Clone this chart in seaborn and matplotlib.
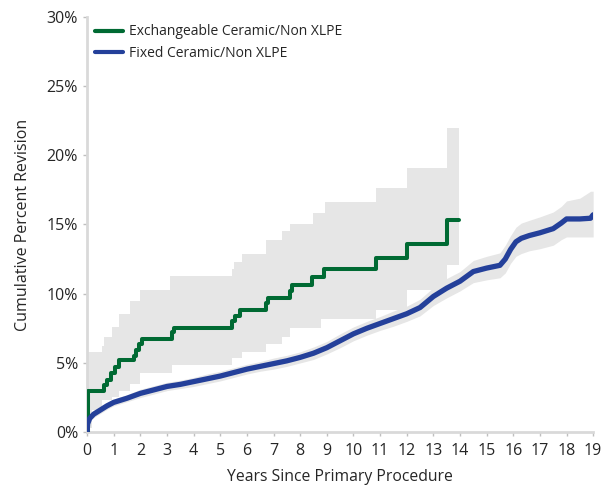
import numpy as np
import matplotlib
matplotlib.use('Agg')
import matplotlib.pyplot as plt
import seaborn as sns

# Exchangeable Ceramic/Non XLPE (step curve)
exch_years = [0, 0.02, 0.05, 0.63, 0.75, 0.9, 1.05, 1.2, 1.75, 1.85, 1.95, 2.05,
              3.17, 3.25, 5.45, 5.55, 5.75, 6.7, 6.8, 7.6, 7.7, 8.45, 8.9,
              10.85, 12.0, 13.5, 13.95]
exch_pct = [0, 2.2, 3.0, 3.4, 3.8, 4.3, 4.7, 5.2, 5.5, 5.9, 6.4, 6.7,
            7.2, 7.5, 8.0, 8.4, 8.8, 9.3, 9.7, 10.2, 10.6, 11.2, 11.8,
            12.6, 13.6, 15.3, 15.3]

# Exchangeable 95% CI (step band)
exch_ci_years = [0, 0.2, 0.55, 0.65, 0.93, 1.2, 1.6, 2.0, 3.1, 3.2, 5.44, 5.53,
                 5.82, 6.7, 7.32, 7.63, 8.5, 8.8, 8.94, 10.84, 12.0, 13.52, 13.95]
exch_ci_low = [0.3, 1.6, 2.3, 2.3, 2.55, 3.0, 3.5, 4.26, 4.26, 4.84, 5.33, 5.33,
               5.8, 6.4, 6.9, 7.5, 7.5, 8.2, 8.2, 8.8, 10.3, 12.1, 12.1]
exch_ci_high = [5.8, 5.8, 6.2, 6.9, 7.6, 8.5, 9.5, 10.3, 11.3, 11.3, 11.8, 12.3,
                12.9, 13.9, 14.5, 15.0, 15.8, 15.8, 16.6, 17.6, 19.1, 22.0, 22.0]

# Fixed Ceramic/Non XLPE
fixed_years = [0, 0.02, 0.1, 0.25, 0.5, 0.75, 1.0, 1.5, 2.0, 2.5, 3.0, 3.5, 4.0,
               4.5, 5.0, 5.5, 6.0, 6.5, 7.0, 7.5, 8.0, 8.5, 9.0, 9.5, 10.0, 10.5,
               11.0, 11.5, 12.0, 12.5, 13.0, 13.5, 14.0, 14.5, 15.0, 15.5, 15.7,
               15.9, 16.1, 16.3, 16.6, 17.0, 17.5, 17.8, 18.0, 18.5, 18.9, 19.0]
fixed_pct = [0, 0.6, 1.0, 1.3, 1.6, 1.9, 2.15, 2.45, 2.8, 3.05, 3.3, 3.45, 3.65,
             3.85, 4.05, 4.3, 4.55, 4.75, 4.95, 5.15, 5.4, 5.7, 6.1, 6.6, 7.1, 7.5,
             7.85, 8.2, 8.55, 9.0, 9.8, 10.4, 10.9, 11.6, 11.85, 12.05, 12.5,
             13.2, 13.75, 14.0, 14.2, 14.4, 14.7, 15.1, 15.4, 15.4, 15.45, 15.7]
fixed_ci_low = [0, 0.4, 0.8, 1.05, 1.35, 1.65, 1.9, 2.2, 2.5, 2.75, 3.0, 3.15, 3.3,
                3.5, 3.7, 3.95, 4.2, 4.4, 4.55, 4.75, 5.0, 5.25, 5.65, 6.1, 6.6, 7.0,
                7.35, 7.65, 8.0, 8.4, 9.15, 9.7, 10.2, 10.8, 11.0, 11.15, 11.5,
                12.2, 12.7, 12.9, 13.1, 13.25, 13.5, 13.9, 14.1, 14.1, 14.1, 14.1]
fixed_ci_high = [0.3, 0.8, 1.2, 1.55, 1.85, 2.15, 2.4, 2.7, 3.1, 3.35, 3.6, 3.75, 3.95,
                 4.2, 4.4, 4.65, 4.9, 5.1, 5.35, 5.55, 5.8, 6.15, 6.55, 7.1, 7.6, 8.0,
                 8.35, 8.75, 9.1, 9.6, 10.45, 11.1, 11.6, 12.4, 12.7, 12.95, 13.5,
                 14.2, 14.8, 15.1, 15.3, 15.55, 15.9, 16.3, 16.7, 16.9, 17.4, 17.4]

x_ticks = list(range(0, 20))
y_ticks = [0, 5, 10, 15, 20, 25, 30]
y_tick_labels = [f'{v}%' for v in y_ticks]

green = '#006a33'
blue = '#24409a'
band = '#e6e6e6'
text_col = '#262626'

sns.set_style('ticks')
plt.rcParams['font.family'] = ['Open Sans', 'DejaVu Sans']
plt.rcParams['text.color'] = text_col
plt.rcParams['axes.labelcolor'] = text_col
plt.rcParams['xtick.color'] = '#bfbfbf'
plt.rcParams['ytick.color'] = '#bfbfbf'
plt.rcParams['xtick.labelcolor'] = text_col
plt.rcParams['ytick.labelcolor'] = text_col

fig = plt.figure(figsize=(6.09, 4.95), dpi=100)
ax = fig.add_axes([0.143, 0.127, 0.831, 0.839])

ax.fill_between(exch_ci_years, exch_ci_low, exch_ci_high, step='post',
                color=band, linewidth=0, zorder=1)
ax.fill_between(fixed_years, fixed_ci_low, fixed_ci_high,
                color=band, linewidth=0, zorder=1)

sns.lineplot(x=exch_years, y=exch_pct, ax=ax, color=green, linewidth=2.9,
             drawstyle='steps-post', estimator=None, sort=False,
             label='Exchangeable Ceramic/Non XLPE', zorder=3)
sns.lineplot(x=fixed_years, y=fixed_pct, ax=ax, color=blue, linewidth=3.8,
             estimator=None, sort=False, solid_capstyle='round',
             label='Fixed Ceramic/Non XLPE', zorder=3)

ax.set_xlim(0, 19)
ax.set_ylim(0, 30)
ax.set_xticks(x_ticks)
ax.set_yticks(y_ticks)
ax.set_yticklabels(y_tick_labels)
ax.tick_params(axis='both', labelsize=11.5, length=3, width=1)
ax.tick_params(axis='x', pad=5)

for side in ['top', 'right']:
    ax.spines[side].set_visible(False)
for side in ['left', 'bottom']:
    ax.spines[side].set_color('#d9d9d9')
    ax.spines[side].set_linewidth(2)

ax.set_xlabel('Years Since Primary Procedure', fontsize=11.3, labelpad=7)
ax.set_ylabel('Cumulative Percent Revision', fontsize=11.5, labelpad=11)

leg = ax.legend(loc='upper left', bbox_to_anchor=(0.0, 1.0), frameon=False,
                fontsize=10, handlelength=2.0, handletextpad=0.45,
                labelspacing=0.45, borderaxespad=0.15)
for line in leg.get_lines():
    line.set_linewidth(3)

fig.savefig('out.png', dpi=100)
